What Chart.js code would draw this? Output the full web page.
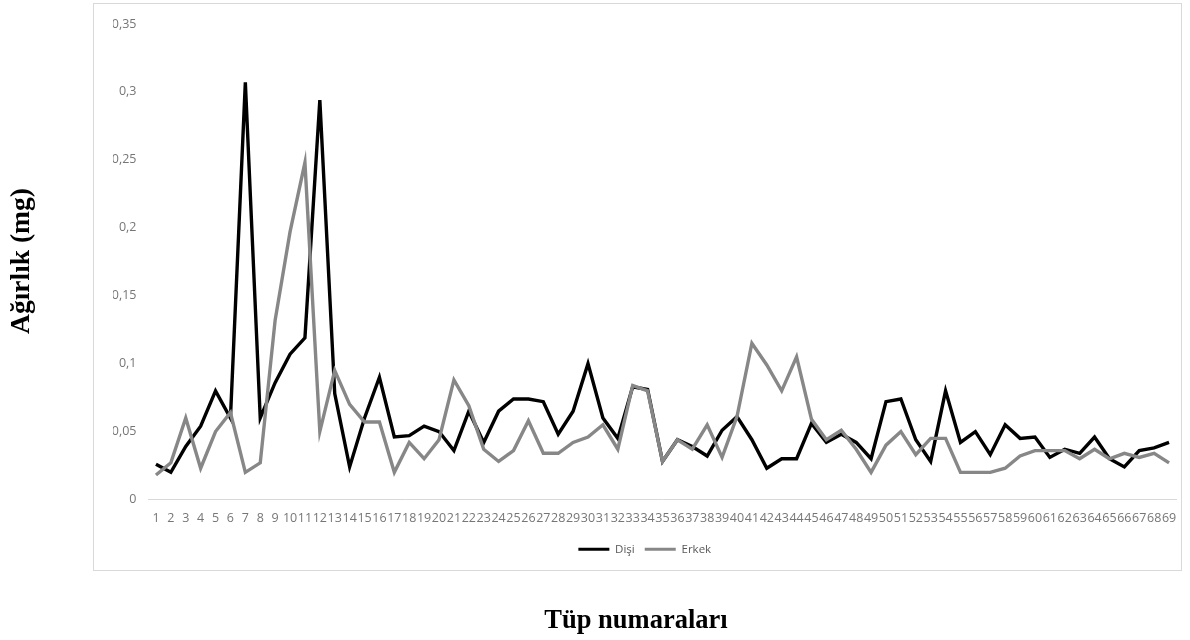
<!DOCTYPE html>
<html lang="tr">
<head>
<meta charset="utf-8">
<title>Tüp numaralarına göre ağırlık</title>
<script src="https://cdn.jsdelivr.net/npm/chart.js@4/dist/chart.umd.min.js"></script>
<style>
  html, body { margin: 0; padding: 0; background: #ffffff; }
  canvas { display: block; }
</style>
</head>
<body>
<canvas id="chart" width="1190" height="640"></canvas>
<script>
// Tube numbers on the category axis
const tubes = [
  '1','2','3','4','5','6','7','8','9','10',
  '11','12','13','14','15','16','17','18','19','20',
  '21','22','23','24','25','26','27','28','29','30',
  '31','32','33','34','35','36','37','38','39','40',
  '41','42','43','44','45','46','47','48','49','50',
  '51','52','53','54','55','56','57','58','59','60',
  '61','62','63','64','65','66','67','68','69'
];

// Weights (mg), females
const disi = [
  0.026, 0.020, 0.039, 0.054, 0.080, 0.060, 0.307, 0.060, 0.086, 0.107,
  0.119, 0.294, 0.078, 0.024, 0.060, 0.090, 0.046, 0.047, 0.054, 0.050,
  0.036, 0.065, 0.042, 0.065, 0.074, 0.074, 0.072, 0.048, 0.065, 0.100,
  0.060, 0.045, 0.083, 0.081, 0.028, 0.044, 0.039, 0.032, 0.051, 0.061,
  0.044, 0.023, 0.030, 0.030, 0.056, 0.042, 0.048, 0.042, 0.030, 0.072,
  0.074, 0.044, 0.028, 0.080, 0.042, 0.050, 0.033, 0.055, 0.045, 0.046,
  0.031, 0.037, 0.034, 0.046, 0.030, 0.024, 0.036, 0.038, 0.042
];

// Weights (mg), males
const erkek = [
  0.018, 0.027, 0.060, 0.023, 0.050, 0.064, 0.020, 0.027, 0.132, 0.197,
  0.248, 0.050, 0.095, 0.070, 0.057, 0.057, 0.020, 0.042, 0.030, 0.044,
  0.088, 0.069, 0.037, 0.028, 0.036, 0.058, 0.034, 0.034, 0.042, 0.046,
  0.055, 0.037, 0.084, 0.080, 0.028, 0.044, 0.037, 0.055, 0.031, 0.061,
  0.115, 0.099, 0.080, 0.105, 0.059, 0.044, 0.051, 0.037, 0.020, 0.040,
  0.050, 0.033, 0.045, 0.045, 0.020, 0.020, 0.020, 0.023, 0.032, 0.036,
  0.036, 0.036, 0.030, 0.037, 0.030, 0.034, 0.031, 0.034, 0.027
];

const yTitle = 'Ağırlık (mg)';
const xTitle = 'Tüp numaraları';

const tickFont = { family: '"Open Sans", "Liberation Sans", sans-serif', size: 12.5 };
const tickColor = '#767676';

// Frame around the plot and the two bold serif axis titles outside it
const framePlugin = {
  id: 'frameAndTitles',
  beforeDraw(chart) {
    const ctx = chart.ctx;
    ctx.save();
    ctx.fillStyle = '#ffffff';
    ctx.fillRect(0, 0, chart.width, chart.height);
    ctx.strokeStyle = '#d9d9d9';
    ctx.lineWidth = 1;
    ctx.strokeRect(93.5, 3.5, 1088, 567);
    ctx.restore();
  },
  afterDraw(chart) {
    const ctx = chart.ctx;
    ctx.save();
    ctx.fillStyle = '#000000';
    ctx.textAlign = 'center';
    ctx.textBaseline = 'middle';
    ctx.font = 'bold 26.5px "Liberation Serif", "DejaVu Serif", serif';
    ctx.fillText(xTitle, 636, 621);
    ctx.font = 'bold 27.5px "Liberation Serif", "DejaVu Serif", serif';
    ctx.translate(22, 261);
    ctx.rotate(-Math.PI / 2);
    ctx.fillText(yTitle, 0, 0);
    ctx.restore();
  }
};

new Chart(document.getElementById('chart'), {
  type: 'line',
  data: {
    labels: tubes,
    datasets: [
      {
        label: 'Dişi',
        data: disi,
        borderColor: '#000000',
        backgroundColor: '#000000',
        borderWidth: 3.4,
        pointRadius: 0,
        tension: 0,
        order: 1
      },
      {
        label: 'Erkek',
        data: erkek,
        borderColor: '#878787',
        backgroundColor: '#878787',
        borderWidth: 3.4,
        pointRadius: 0,
        tension: 0,
        order: 0
      }
    ]
  },
  options: {
    responsive: false,
    animation: false,
    devicePixelRatio: 1,
    layout: { padding: { left: 113, right: 13.5, top: 24, bottom: 75 } },
    scales: {
      x: {
        offset: true,
        grid: { display: false, drawTicks: false },
        border: { display: true, color: '#d9d9d9', width: 1 },
        ticks: {
          autoSkip: false,
          maxRotation: 0,
          minRotation: 0,
          padding: 11,
          font: tickFont,
          color: tickColor
        },
        afterFit(scale) { scale.height = 34; }
      },
      y: {
        min: 0,
        max: 0.35,
        grid: { display: false, drawTicks: false },
        border: { display: false },
        ticks: {
          stepSize: 0.05,
          padding: 12,
          font: tickFont,
          color: tickColor,
          callback: v => String(Math.round(v * 100) / 100).replace('.', ',')
        },
        afterFit(scale) { scale.width = 35.5; }
      }
    },
    plugins: {
      legend: {
        position: 'bottom',
        labels: {
          boxWidth: 31,
          boxHeight: 3,
          padding: 10,
          color: '#595959',
          font: { family: '"Open Sans", "Liberation Sans", sans-serif', size: 11.5 },
          sort: (a, b) => a.datasetIndex - b.datasetIndex,
          generateLabels(chart) {
            return Chart.defaults.plugins.legend.labels.generateLabels(chart)
              .map(l => Object.assign(l, { lineWidth: 0, fillStyle: l.strokeStyle }));
          }
        }
      },
      tooltip: { enabled: false }
    }
  },
  plugins: [framePlugin]
});
</script>
</body>
</html>
